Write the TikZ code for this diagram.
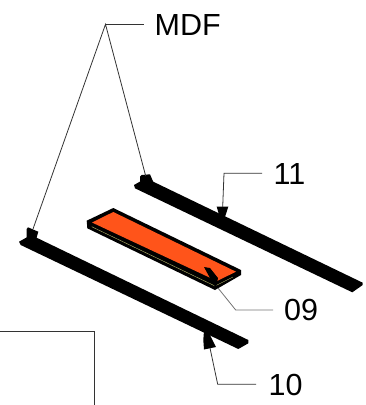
\documentclass[tikz,border=0pt]{standalone}
\usepackage{fontspec}
\setmainfont{Liberation Sans}
\tikzset{
  px/.style={x=1pt,y=-1pt},
  lbl/.style={inner sep=0pt,anchor=base west,font=\fontsize{30.5}{31}\selectfont,text=black},
  leader/.style={draw=black!80,line width=0.8pt},
  blackshape/.style={fill=black,draw=none},
  frameline/.style={draw=black!80,line width=0.8pt}
}
\definecolor{boardorange}{RGB}{255,84,26}
\definecolor{stripe}{RGB}{185,185,110}
\begin{document}
\begin{tikzpicture}[px]
\useasboundingbox (0,0) rectangle (366,405);
% bars
\fill[blackshape] (134,185) -- (146,178.2) -- (362.7,282.7) -- (362.7,285) -- (352.3,292.3) -- (135,188.3) -- cycle;
\fill[blackshape] (19,241.7) -- (31,235) -- (248.3,340) -- (248.3,343.3) -- (238.3,349) -- (20.7,245) -- cycle;
% board
\fill[blackshape] (86.7,220.7) -- (113.3,208) -- (241,270) -- (241,275) -- (215,290) -- (87.3,228.3) -- cycle;
\fill[boardorange] (92,222.5) -- (113.3,212) -- (236,271.7) -- (217,281) -- cycle;
\draw[stripe,line width=0.4pt] (91.7,226.7) -- (215,286) -- (233,277);
% arrowheads
\fill[blackshape] (26.7,229) -- (28,227.3) -- (38.3,231.7) -- (36,240) -- (26.7,241) -- cycle;
\fill[blackshape] (140,181.5) -- (140,176.7) -- (141.7,175) -- (150,174.3) -- (153.3,182) -- (145,185) -- cycle;
\fill[blackshape] (216.7,206.7) -- (228.3,206.7) -- (225,217) -- (220,218) -- cycle;
\fill[blackshape] (204,331) -- (210,335) -- (216,347) -- (204,349.5) -- (203.3,340) -- cycle;
\fill[blackshape] (204,267) -- (210,268) -- (218,278) -- (216,288) -- (210,278) -- cycle;
% labels
\node[lbl] (mdf) at (154.5,35.5) {MDF};
\node[lbl] (n11) at (273.5,184.5) {11};
\node[lbl] (n09) at (284,320.5) {09};
\node[lbl] (n10) at (268.5,395) {10};
% leaders
\coordinate (mdfend) at (143.7,24.3);
\coordinate (mdfv) at (105.5,24.3);
\coordinate (mdfa) at (145.7,176);
\coordinate (mdfb) at (33,229);
\draw[leader] (mdfa) -- (mdfv) -- (mdfb);
\draw[leader] (mdfv) -- (mdfend);
\coordinate (a11) at (262,173.3);
\coordinate (b11) at (224,173.3);
\coordinate (c11) at (222.7,207);
\draw[leader] (a11) -- (b11) -- (c11);
\coordinate (a09) at (273,310);
\coordinate (b09) at (235.7,310);
\coordinate (c09) at (218,288);
\draw[leader,draw=black!55] (a09) -- (b09) -- (c09);
\coordinate (a10) at (256,384.3);
\coordinate (b10) at (217.7,384.3);
\coordinate (c10) at (210,348);
\draw[leader] (a10) -- (b10) -- (c10);
% frame fragment
\coordinate (f1) at (0,331);
\coordinate (f2) at (94,331);
\coordinate (f3) at (94,405);
\draw[frameline] (f1) -- (f2) -- (f3);
\end{tikzpicture}
\end{document}
